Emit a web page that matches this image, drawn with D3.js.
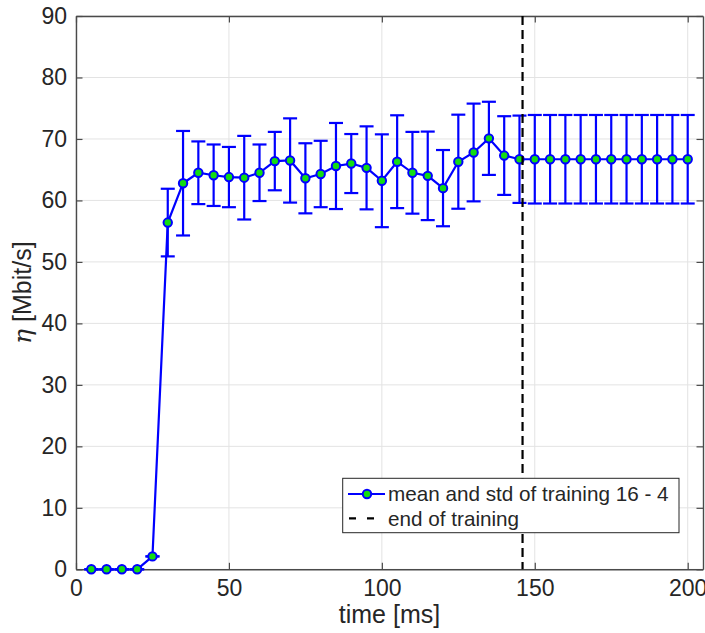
<!DOCTYPE html>
<html>
<head>
<meta charset="utf-8">
<script src="https://cdn.jsdelivr.net/npm/d3@7"></script>
<style>
  html, body { margin: 0; padding: 0; background: #fff; }
  svg { display: block; }
  text { font-family: "Liberation Sans", Arial, Helvetica, sans-serif; fill: #262626; }
</style>
</head>
<body>
<svg id="chart" width="705" height="633"></svg>
<script>
// ---- data ----
const time = [5, 10, 15, 20, 25, 30, 35, 40, 45, 50, 55, 60, 65, 70, 75, 80, 85, 90, 95, 100,
              105, 110, 115, 120, 125, 130, 135, 140, 145, 150, 155, 160, 165, 170, 175, 180, 185, 190, 195, 200];
const meanEta = [0, 0, 0, 0, 2.1, 56.4, 62.8, 64.5, 64.1, 63.8, 63.7, 64.5, 66.4, 66.5, 63.6, 64.3, 65.6, 66.0, 65.3, 63.2,
                 66.3, 64.5, 64.0, 62.0, 66.3, 67.8, 70.1, 67.3, 66.7, 66.7, 66.7, 66.7, 66.7, 66.7, 66.7, 66.7, 66.7, 66.7, 66.7, 66.7];
const stdEta = [0, 0, 0, 0, 0, 5.5, 8.5, 5.1, 5.0, 4.9, 6.8, 4.6, 4.75, 6.85, 5.7, 5.4, 7.0, 4.8, 6.75, 7.55,
                7.55, 6.65, 7.2, 6.2, 7.65, 7.95, 5.95, 6.4, 7.1, 7.2, 7.2, 7.2, 7.2, 7.2, 7.2, 7.2, 7.2, 7.2, 7.2, 7.2];
const endOfTraining = 146;
const xTicks = [0, 50, 100, 150, 200];
const yTicks = [0, 10, 20, 30, 40, 50, 60, 70, 80, 90];
const xDomain = [0, 205];
const yDomain = [0, 90];
const legendLabels = ["mean and std of training 16 - 4", "end of training"];
const xLabel = "time [ms]";

// ---- layout ----
const svg = d3.select("#chart");
const L = 76, R = 703, T = 16, B = 569.3;
const x = d3.scaleLinear().domain(xDomain).range([L, R]);
const y = d3.scaleLinear().domain(yDomain).range([B, T]);
const axisColor = "#4a4a4a";
const blue = "#0000ff";
const green = "#13dd13";

// grid
const grid = svg.append("g");
grid.selectAll(".gx").data(xTicks).enter().append("line")
  .attr("x1", d => x(d)).attr("x2", d => x(d)).attr("y1", T).attr("y2", B)
  .attr("stroke", "#e3e3e3").attr("stroke-width", 1);
grid.selectAll(".gy").data(yTicks).enter().append("line")
  .attr("x1", L).attr("x2", R).attr("y1", d => y(d)).attr("y2", d => y(d))
  .attr("stroke", "#e3e3e3").attr("stroke-width", 1);

// axes (ticks inside, box on)
const fontTick = 23;
const axB = svg.append("g").attr("transform", `translate(0,${B})`)
  .call(d3.axisBottom(x).tickValues(xTicks).tickSizeInner(-6.5).tickSizeOuter(0).tickPadding(10));
const axT = svg.append("g").attr("transform", `translate(0,${T})`)
  .call(d3.axisTop(x).tickValues(xTicks).tickSizeInner(-6.5).tickSizeOuter(0).tickFormat(""));
const axLft = svg.append("g").attr("transform", `translate(${L},0)`)
  .call(d3.axisLeft(y).tickValues(yTicks).tickSizeInner(-6.5).tickSizeOuter(0).tickPadding(9));
const axRgt = svg.append("g").attr("transform", `translate(${R},0)`)
  .call(d3.axisRight(y).tickValues(yTicks).tickSizeInner(-6.5).tickSizeOuter(0).tickFormat(""));
[axB, axT, axLft, axRgt].forEach(a => {
  a.select(".domain").attr("stroke", axisColor).attr("stroke-width", 1.4);
  a.selectAll(".tick line").attr("stroke", axisColor).attr("stroke-width", 1.2);
  a.selectAll(".tick text").attr("font-size", fontTick)
    .attr("font-family", '"Liberation Sans", Arial, sans-serif').attr("fill", "#262626");
});
axB.selectAll(".tick text").attr("dy", "0.71em");

// axis labels
svg.append("text").attr("x", (L + R) / 2).attr("y", 623)
  .attr("text-anchor", "middle").attr("font-size", 25).text(xLabel);
const yl = svg.append("text").attr("transform", `translate(31,${(T + B) / 2}) rotate(-90)`)
  .attr("text-anchor", "middle").attr("font-size", 25);
yl.append("tspan").attr("font-family", '"DejaVu Serif", "Liberation Serif", serif')
  .attr("font-style", "italic").text("η");
yl.append("tspan").text(" [Mbit/s]");

// error bars
const cap = 7;
const eb = svg.append("g").attr("stroke", blue).attr("stroke-width", 2.2).attr("fill", "none");
time.forEach((t, i) => {
  const cx = x(t), hi = y(meanEta[i] + stdEta[i]), lo = y(meanEta[i] - stdEta[i]);
  eb.append("line").attr("x1", cx).attr("x2", cx).attr("y1", hi).attr("y2", lo);
  eb.append("line").attr("x1", cx - cap).attr("x2", cx + cap).attr("y1", hi).attr("y2", hi);
  eb.append("line").attr("x1", cx - cap).attr("x2", cx + cap).attr("y1", lo).attr("y2", lo);
});

// mean line
const line = d3.line().x((d, i) => x(time[i])).y(d => y(d));
svg.append("path").datum(meanEta).attr("d", line)
  .attr("fill", "none").attr("stroke", blue).attr("stroke-width", 2.2);

// markers
svg.append("g").selectAll("circle").data(meanEta).enter().append("circle")
  .attr("cx", (d, i) => x(time[i])).attr("cy", d => y(d)).attr("r", 4.2)
  .attr("fill", green).attr("stroke", blue).attr("stroke-width", 2);

// end of training line
svg.append("line").attr("x1", x(endOfTraining)).attr("x2", x(endOfTraining))
  .attr("y1", T).attr("y2", B).attr("stroke", "#000").attr("stroke-width", 2.2)
  .attr("stroke-dasharray", "9,5");

// legend
const lg = svg.append("g");
const lx = 342.7, ly = 478.3, lw = 336.3, lh = 54.4;
lg.append("rect").attr("x", lx).attr("y", ly).attr("width", lw).attr("height", lh)
  .attr("fill", "#fff").attr("stroke", "#262626").attr("stroke-width", 1);
const r1 = 494, r2 = 518.3;
lg.append("line").attr("x1", 348).attr("x2", 385).attr("y1", r1).attr("y2", r1)
  .attr("stroke", blue).attr("stroke-width", 2.2);
lg.append("circle").attr("cx", 367).attr("cy", r1).attr("r", 4.2)
  .attr("fill", green).attr("stroke", blue).attr("stroke-width", 2);
lg.append("line").attr("x1", 349).attr("x2", 376).attr("y1", r2).attr("y2", r2)
  .attr("stroke", "#000").attr("stroke-width", 2.2).attr("stroke-dasharray", "7,11");
lg.selectAll(".lt").data(legendLabels).enter().append("text")
  .attr("x", 388).attr("y", (d, i) => i === 0 ? r1 : r2).attr("dy", "0.35em")
  .attr("font-size", 20.7).text(d => d);
</script>
</body>
</html>
